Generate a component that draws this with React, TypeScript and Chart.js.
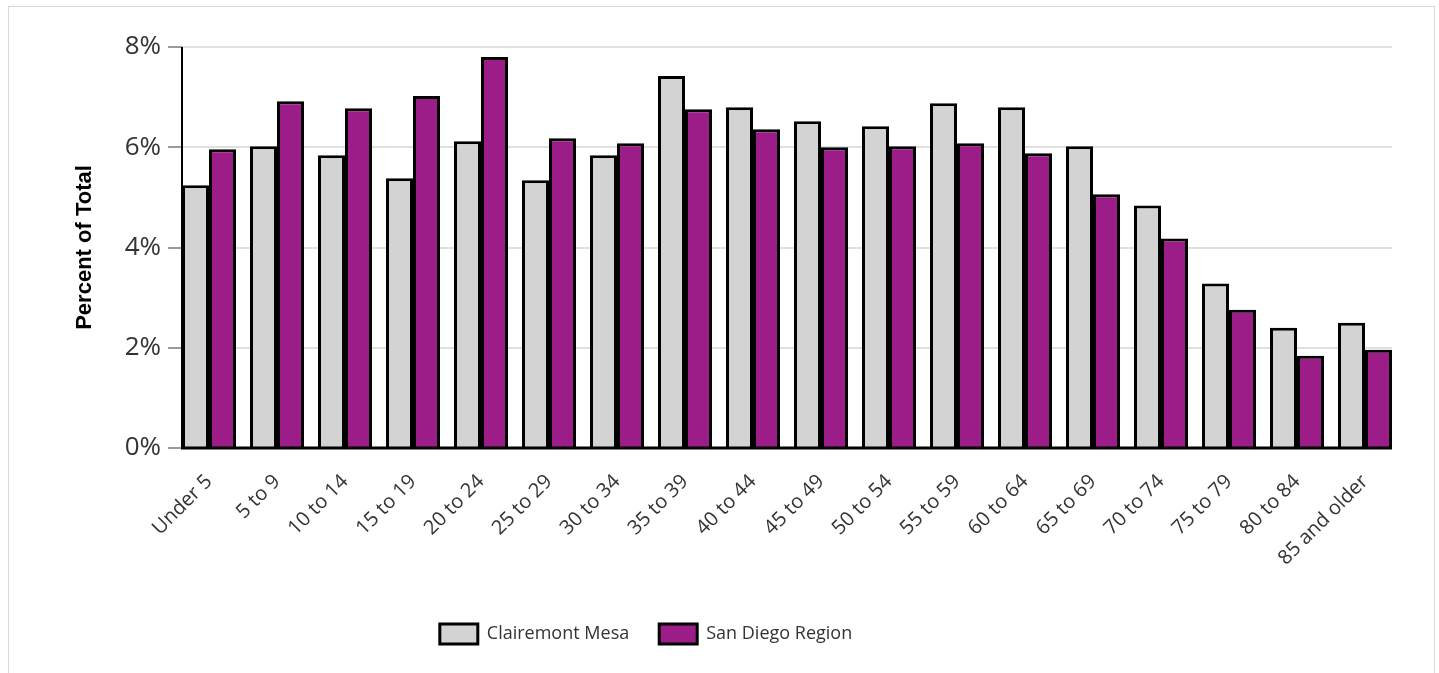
import React, { useEffect, useRef } from "react";
import { Chart, registerables } from "chart.js";

Chart.register(...registerables);

const categories = [
  "Under 5", "5 to 9", "10 to 14", "15 to 19", "20 to 24", "25 to 29",
  "30 to 34", "35 to 39", "40 to 44", "45 to 49", "50 to 54", "55 to 59",
  "60 to 64", "65 to 69", "70 to 74", "75 to 79", "80 to 84", "85 and older",
];
const clairemontMesa = [
  5.24, 6.02, 5.84, 5.38, 6.12, 5.34, 5.84, 7.42, 6.8, 6.52, 6.42, 6.88,
  6.8, 6.02, 4.84, 3.28, 2.4, 2.5,
];
const sanDiegoRegion = [
  5.96, 6.92, 6.78, 7.02, 7.8, 6.18, 6.08, 6.76, 6.36, 6.0, 6.02, 6.08,
  5.88, 5.06, 4.18, 2.76, 1.84, 1.96,
];
const yTicks = [0, 2, 4, 6, 8];

const CAT_PCT = 0.794;

const axesPlugin = {
  id: "customAxes",
  beforeDatasetsDraw(chart: any) {
    const { ctx, chartArea, scales } = chart;
    const y = scales.y;
    const catW = (chartArea.right - chartArea.left) / categories.length;
    const inset = (catW * (1 - CAT_PCT)) / 2;
    const left = chartArea.left + inset;
    const right = chartArea.right - inset;
    ctx.save();
    yTicks.forEach((v) => {
      const py = Math.round(y.getPixelForValue(v));
      ctx.lineWidth = 2;
      ctx.strokeStyle = "#e0e0e0";
      ctx.beginPath();
      ctx.moveTo(left, py);
      ctx.lineTo(right, py);
      ctx.stroke();
      ctx.strokeStyle = "#9a9a9a";
      ctx.beginPath();
      ctx.moveTo(left - 14, py);
      ctx.lineTo(left, py);
      ctx.stroke();
    });
    ctx.restore();
  },
  afterDatasetsDraw(chart: any) {
    const { ctx, chartArea, scales } = chart;
    const y = scales.y;
    const catW = (chartArea.right - chartArea.left) / categories.length;
    const inset = (catW * (1 - CAT_PCT)) / 2;
    const left = chartArea.left + inset;
    const right = chartArea.right - inset;
    const top = y.getPixelForValue(yTicks[yTicks.length - 1]);
    const bottom = Math.round(y.getPixelForValue(0));
    ctx.save();
    ctx.strokeStyle = "#000";
    ctx.lineWidth = 2;
    ctx.beginPath();
    ctx.moveTo(left, top);
    ctx.lineTo(left, bottom);
    ctx.stroke();
    ctx.lineWidth = 3;
    ctx.beginPath();
    ctx.moveTo(left - 1, bottom);
    ctx.lineTo(right, bottom);
    ctx.stroke();
    ctx.restore();
  },
};

const legendShiftPlugin = {
  id: "legendShift",
  afterLayout(chart: any) {
    if (chart.legend) {
      chart.legend.left -= 58;
      chart.legend.right -= 58;
    }
  },
};

export default function App() {
  const ref = useRef<HTMLCanvasElement | null>(null);
  useEffect(() => {
    if (!ref.current) return;
    const chart = new Chart(ref.current, {
      type: "bar",
      data: {
        labels: categories,
        datasets: [
          {
            label: "Clairemont Mesa",
            data: clairemontMesa,
            backgroundColor: "#d3d3d3",
            borderColor: "#000",
            borderWidth: 3,
            categoryPercentage: CAT_PCT,
            barPercentage: 1.0,
          },
          {
            label: "San Diego Region",
            data: sanDiegoRegion,
            backgroundColor: "#9d1d88",
            borderColor: "#000",
            borderWidth: 3,
            categoryPercentage: CAT_PCT,
            barPercentage: 1.0,
          },
        ],
      },
      plugins: [axesPlugin, legendShiftPlugin],
      options: {
        animation: false,
        responsive: false,
        maintainAspectRatio: false,
        layout: { padding: { top: 40, right: 35, left: 0, bottom: 19 } },
        plugins: {
          tooltip: { enabled: false },
          legend: {
            position: "bottom",
            labels: {
              boxWidth: 38,
              boxHeight: 20,
              padding: 30,
              color: "#333",
              font: { family: "'Open Sans', sans-serif", size: 18 },
            },
          },
        },
        scales: {
          x: {
            afterFit: (s: any) => { s.height = 146; },
            grid: { display: false, drawTicks: false },
            border: { display: false },
            ticks: {
              minRotation: 45,
              maxRotation: 45,
              padding: 22,
              color: "#333",
              font: { family: "'Open Sans', sans-serif", size: 20 },
            },
          },
          y: {
            min: 0,
            max: 8,
            afterFit: (s: any) => { s.width = 166; },
            afterBuildTicks: (s: any) => { s.ticks = yTicks.map((v) => ({ value: v })); },
            grid: { display: false, drawTicks: false },
            border: { display: false },
            ticks: {
              padding: 14,
              color: "#333",
              font: { family: "'Open Sans', sans-serif", size: 26 },
              callback: (v: any) => v + "%",
            },
            title: {
              display: true,
              text: "Percent of Total",
              color: "#000",
              font: { family: "'Liberation Sans', Arial, sans-serif", size: 22, weight: "bold" },
              padding: { top: 63, bottom: 0 },
            },
          },
        },
      },
    });
    return () => chart.destroy();
  }, []);
  return (
    <div
      style={{
        position: "absolute",
        left: 8,
        top: 6,
        width: 1427,
        height: 667,
        borderTop: "1px solid #d8d8d8",
        borderLeft: "1px solid #d8d8d8",
        borderRight: "1px solid #d8d8d8",
        boxSizing: "border-box",
        overflow: "hidden",
      }}
    >
      <canvas ref={ref} width={1425} height={666} style={{ display: "block" }} />
    </div>
  );
}
